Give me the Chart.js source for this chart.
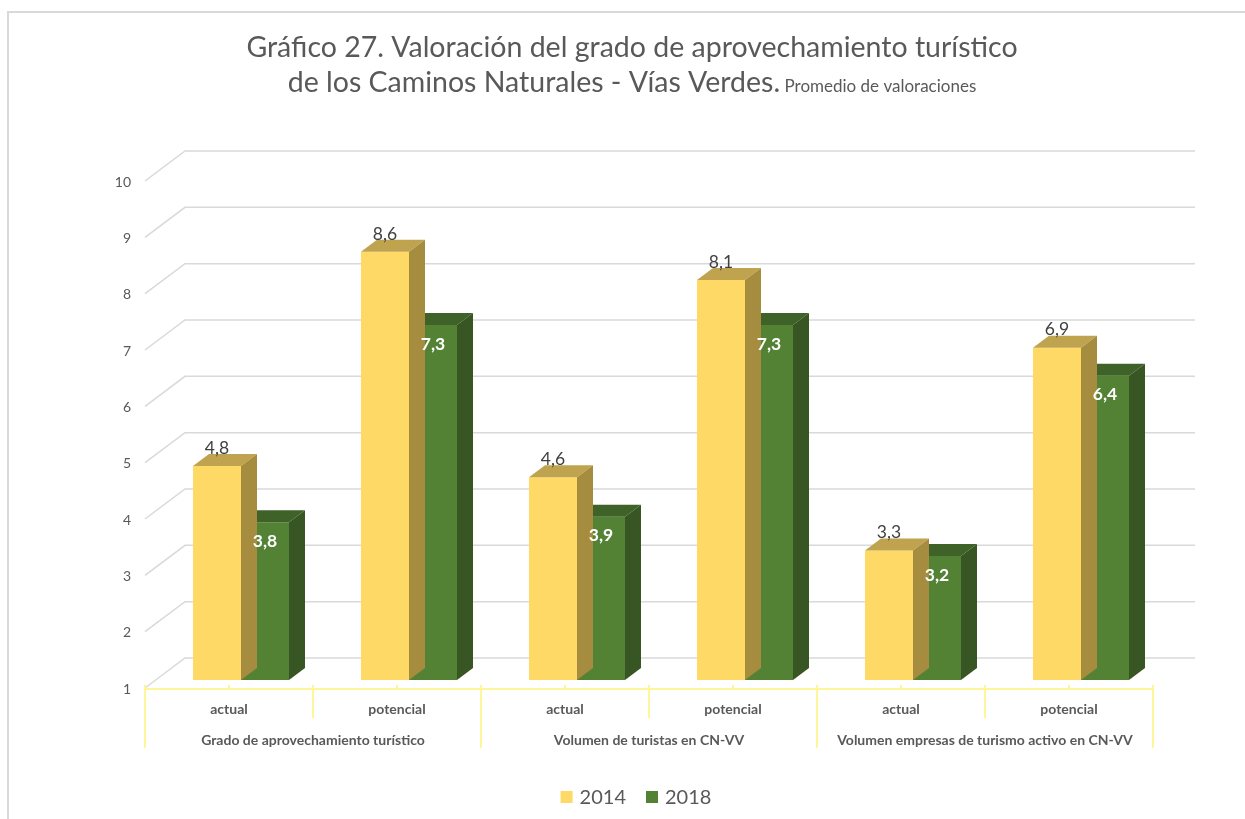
<!DOCTYPE html>
<html>
<head>
<meta charset="utf-8">
<script src="https://cdn.jsdelivr.net/npm/chart.js@4.4.0/dist/chart.umd.min.js"></script>
<style>
  html, body { margin: 0; padding: 0; background: #fff; }
</style>
</head>
<body>
<canvas id="chart" width="1245" height="819"></canvas>
<script>
// data
const categories = ['actual', 'potencial', 'actual', 'potencial', 'actual', 'potencial'];
const groups = ['Grado de aprovechamiento turístico', 'Volumen de turistas en CN-VV', 'Volumen empresas de turismo activo en CN-VV'];
const values2014 = [4.8, 8.6, 4.6, 8.1, 3.3, 6.9];
const values2018 = [3.8, 7.3, 3.9, 7.3, 3.2, 6.4];
const yTicks = [1, 2, 3, 4, 5, 6, 7, 8, 9, 10];
const seriesNames = ['2014', '2018'];
const titleLine1 = 'Gráfico 27. Valoración del grado de aprovechamiento turístico';
const titleLine2 = 'de los Caminos Naturales - Vías Verdes.';
const titleSub = ' Promedio de valoraciones';

const FONT = 'Lato, "Open Sans", sans-serif';
const GREY = '#595959';
// 3d look: faces of each bar (front, top, side)
const faces = [
  { front: '#FFD966', top: '#C0A34E', side: '#A68C3F' },
  { front: '#548235', top: '#3F6228', side: '#375623' }
];
const BAR_DX = 16, BAR_DY = -12;      // bar depth
const WALL_DX = 28, WALL_DY = -22;    // back wall offset from bar plane
const FLOOR_DX = -12, FLOOR_DY = 8;   // front edge offset from bar plane

const fmt = v => v.toFixed(1).replace('.', ',');

const threeD = {
  id: 'threeD',
  beforeDraw(chart) {
    const ctx = chart.ctx;
    ctx.save();
    ctx.fillStyle = '#fff';
    ctx.fillRect(0, 0, chart.width, chart.height);
    // outer frame
    ctx.strokeStyle = '#d9d9d9';
    ctx.lineWidth = 2;
    ctx.beginPath();
    ctx.moveTo(8, chart.height);
    ctx.lineTo(8, 12);
    ctx.lineTo(chart.width, 12);
    ctx.stroke();

    // title
    ctx.fillStyle = GREY;
    ctx.textBaseline = 'alphabetic';
    ctx.textAlign = 'center';
    ctx.font = '28.5px ' + FONT;
    ctx.fillText(titleLine1, 632, 57);
    const big = '28.5px ' + FONT, small = '17px ' + FONT;
    ctx.font = big;
    const w1 = ctx.measureText(titleLine2).width;
    ctx.font = small;
    const w2 = ctx.measureText(titleSub).width;
    let x0 = 632 - (w1 + w2) / 2;
    ctx.textAlign = 'left';
    ctx.font = big;
    ctx.fillText(titleLine2, x0, 92);
    ctx.font = small;
    ctx.fillText(titleSub, x0 + w1, 92);
    ctx.restore();
  },
  beforeDatasetsDraw(chart) {
    const ctx = chart.ctx;
    const y = chart.scales.y, x = chart.scales.x;
    const area = chart.chartArea;
    ctx.save();
    ctx.strokeStyle = '#d9d9d9';
    ctx.lineWidth = 1.5;
    yTicks.forEach(v => {
      const py = y.getPixelForValue(v);
      ctx.beginPath();
      ctx.moveTo(area.left + FLOOR_DX, py + FLOOR_DY);
      ctx.lineTo(area.left + WALL_DX, py + WALL_DY);
      ctx.lineTo(area.right + WALL_DX + 2, py + WALL_DY);
      ctx.stroke();
    });

    // category axis (front edge of the floor)
    const base = y.getPixelForValue(1) + 9;
    const step = x.getPixelForValue(1) - x.getPixelForValue(0);
    ctx.strokeStyle = '#FFF59A';
    ctx.lineWidth = 2;
    ctx.beginPath();
    ctx.moveTo(area.left + FLOOR_DX, base);
    ctx.lineTo(area.right + FLOOR_DX, base);
    ctx.stroke();
    categories.forEach((c, i) => {
      const cx = x.getPixelForValue(i) + FLOOR_DX;
      ctx.beginPath();
      ctx.moveTo(cx, base - 4);
      ctx.lineTo(cx, base);
      ctx.stroke();
    });
    for (let i = 0; i <= categories.length; i++) {
      const bx = x.getPixelForValue(0) - step / 2 + i * step + FLOOR_DX;
      const long = i % 2 === 0;
      ctx.beginPath();
      ctx.moveTo(bx, base - 4);
      ctx.lineTo(bx, base + (long ? 59 : 29));
      ctx.stroke();
    }

    // category + group labels
    ctx.fillStyle = GREY;
    ctx.textAlign = 'center';
    ctx.textBaseline = 'middle';
    ctx.font = 'bold 14px ' + FONT;
    categories.forEach((c, i) => {
      ctx.fillText(c, x.getPixelForValue(i) + FLOOR_DX, base + 20);
    });
    groups.forEach((g, i) => {
      const gx = (x.getPixelForValue(i * 2) + x.getPixelForValue(i * 2 + 1)) / 2 + FLOOR_DX;
      ctx.fillText(g, gx, base + 51);
    });
    ctx.restore();
  },
  afterDatasetDraw(chart, args) {
    const ctx = chart.ctx;
    const f = faces[args.index];
    const meta = chart.getDatasetMeta(args.index);
    const bottom = chart.chartArea.bottom;
    ctx.save();
    meta.data.forEach(bar => {
      const l = bar.x - bar.width / 2, r = bar.x + bar.width / 2;
      const t = bar.y, b = Math.min(bar.base, bottom);
      ctx.fillStyle = f.top;
      ctx.beginPath();
      ctx.moveTo(l, t);
      ctx.lineTo(l + BAR_DX, t + BAR_DY);
      ctx.lineTo(r + BAR_DX, t + BAR_DY);
      ctx.lineTo(r, t);
      ctx.closePath();
      ctx.fill();
      ctx.fillStyle = f.side;
      ctx.beginPath();
      ctx.moveTo(r, t);
      ctx.lineTo(r + BAR_DX, t + BAR_DY);
      ctx.lineTo(r + BAR_DX, b + BAR_DY);
      ctx.lineTo(r, b);
      ctx.closePath();
      ctx.fill();
    });
    ctx.restore();
  },
  afterDatasetsDraw(chart) {
    const ctx = chart.ctx;
    ctx.save();
    ctx.textAlign = 'center';
    ctx.textBaseline = 'middle';
    chart.getDatasetMeta(0).data.forEach((bar, i) => {
      ctx.fillStyle = '#404040';
      ctx.font = '17.5px ' + FONT;
      ctx.fillText(fmt(values2014[i]), bar.x, bar.y - 18);
    });
    chart.getDatasetMeta(1).data.forEach((bar, i) => {
      ctx.fillStyle = '#ffffff';
      ctx.font = 'bold 17.5px ' + FONT;
      ctx.fillText(fmt(values2018[i]), bar.x, bar.y + 19);
    });

    // legend
    ctx.font = '20px ' + FONT;
    ctx.textAlign = 'left';
    ctx.textBaseline = 'middle';
    const box = 12, gap = 7, spacing = 20;
    const widths = seriesNames.map(s => ctx.measureText(s).width);
    const total = widths.reduce((a, w) => a + box + gap + w, 0) + spacing * (seriesNames.length - 1);
    let lx = 636 - total / 2;
    const ly = 797;
    seriesNames.forEach((s, i) => {
      ctx.fillStyle = faces[i].front;
      ctx.fillRect(lx, ly - box / 2, box, box);
      ctx.fillStyle = GREY;
      ctx.fillText(s, lx + box + gap, ly + 1);
      lx += box + gap + widths[i] + spacing;
    });
    ctx.restore();
  }
};

new Chart(document.getElementById('chart'), {
  type: 'bar',
  data: {
    labels: categories,
    datasets: [
      { label: seriesNames[0], data: values2014, backgroundColor: faces[0].front, borderWidth: 0 },
      { label: seriesNames[1], data: values2018, backgroundColor: faces[1].front, borderWidth: 0 }
    ]
  },
  options: {
    responsive: false,
    animation: false,
    devicePixelRatio: 1,
    layout: { padding: { left: 97, right: 80, top: 173, bottom: 139 } },
    datasets: { bar: { categoryPercentage: 96 / 168, barPercentage: 1 } },
    plugins: { legend: { display: false }, title: { display: false }, tooltip: { enabled: false } },
    scales: {
      x: { display: false },
      y: {
        min: 1, max: 10,
        afterFit: s => { s.width = 60; },
        afterBuildTicks: s => { s.ticks = yTicks.map(v => ({ value: v })); },
        grid: { display: false, drawTicks: false },
        border: { display: false },
        ticks: { color: GREY, font: { family: FONT, size: 14 }, padding: 26, labelOffset: 9 }
      }
    }
  },
  plugins: [threeD]
});
</script>
</body>
</html>
